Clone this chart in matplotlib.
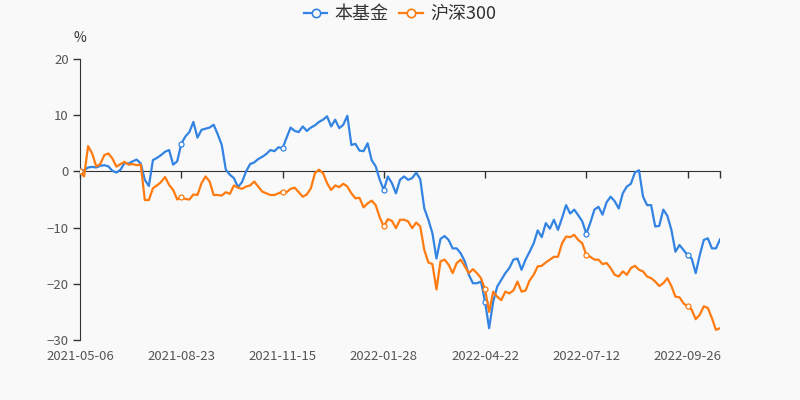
import matplotlib
matplotlib.use("Agg")
import matplotlib.pyplot as plt
from matplotlib.lines import Line2D

plt.rcParams['font.family'] = ['Noto Sans CJK SC', 'DejaVu Sans']

tick_labels = ["2021-05-06", "2021-08-23", "2021-11-15", "2022-01-28",
               "2022-04-22", "2022-07-12", "2022-09-26"]
label_step = 25

fund = [0, 0.2, 0.7, 0.8, 0.7, 1.0, 1.1, 0.9, 0.1, -0.2,
        0.3, 1.5, 1.4, 1.8, 2.1, 1.4, -1.5, -2.6, 2.0, 2.4,
        2.9, 3.5, 3.8, 1.2, 1.8, 4.9, 6.2, 7.0, 8.8, 6.0,
        7.4, 7.6, 7.8, 8.3, 6.6, 4.7, 0.3, -0.6, -1.2, -2.8,
        -1.9, 0.0, 1.3, 1.6, 2.2, 2.6, 3.1, 3.8, 3.6, 4.3,
        4.1, 6.0, 7.8, 7.2, 7.0, 8.0, 7.2, 7.8, 8.2, 8.8,
        9.2, 9.8, 8.0, 9.2, 7.7, 8.3, 9.9, 4.7, 4.9, 3.7,
        3.6, 5.0, 2.0, 0.9, -1.5, -3.3, -0.9, -2.1, -3.9, -1.5,
        -0.9, -1.5, -1.2, -0.2, -1.4, -6.6, -8.6, -11.0, -15.5, -12.0,
        -11.5, -12.2, -13.7, -13.7, -14.6, -16.0, -18.4, -19.9, -19.9, -19.6,
        -23.2, -27.9, -23.2, -20.5, -19.3, -18.1, -17.2, -15.7, -15.5, -17.5,
        -15.7, -14.3, -12.8, -10.5, -11.7, -9.2, -10.2, -8.6, -10.4, -8.3,
        -6.0, -7.5, -6.8, -7.8, -8.9, -11.1, -9.1, -6.8, -6.3, -7.7,
        -5.5, -4.5, -5.3, -6.6, -3.9, -2.7, -2.2, -0.2, 0.2, -4.5,
        -6.0, -6.0, -9.8, -9.7, -6.8, -7.9, -10.4, -14.3, -13.1, -14.0,
        -14.9, -15.5, -18.1, -14.9, -12.2, -11.9, -13.7, -13.7, -12.1]

hs300 = [0, -0.9, 4.5, 3.2, 0.9, 1.3, 2.9, 3.2, 2.3, 0.85,
         1.3, 1.7, 1.2, 1.3, 1.1, 1.2, -5.1, -5.1, -3.0, -2.5,
         -1.9, -1.0, -2.4, -3.3, -5.0, -4.5, -4.9, -5.0, -4.1, -4.2,
         -2.1, -0.9, -1.8, -4.2, -4.2, -4.3, -3.7, -4.0, -2.5, -2.9,
         -3.1, -2.7, -2.5, -1.8, -2.7, -3.6, -3.9, -4.2, -4.2, -3.9,
         -3.6, -3.7, -3.1, -2.9, -3.7, -4.5, -4.1, -3.0, -0.3, 0.3,
         -0.3, -2.1, -3.3, -2.5, -2.8, -2.2, -2.7, -3.9, -4.8, -4.7,
         -6.4, -5.7, -5.2, -6.0, -8.2, -9.8, -8.5, -8.8, -10.1, -8.6,
         -8.6, -8.9, -10.1, -9.1, -9.8, -14.0, -16.2, -16.5, -21.0, -16.0,
         -15.7, -16.6, -18.1, -16.3, -15.7, -16.9, -18.1, -17.4, -18.1, -19.0,
         -21.0, -25.0, -21.4, -22.3, -22.9, -21.4, -21.7, -21.2, -19.6, -21.4,
         -21.2, -19.4, -18.4, -16.9, -16.8, -16.2, -15.7, -15.2, -15.2, -12.8,
         -11.6, -11.7, -11.3, -12.2, -12.8, -14.9, -15.2, -15.7, -15.7, -16.5,
         -16.3, -17.2, -18.4, -18.7, -17.8, -18.4, -17.2, -16.8, -17.5, -17.8,
         -18.7, -19.0, -19.6, -20.4, -19.9, -19.0, -20.4, -22.3, -22.4, -23.5,
         -24.0, -24.6, -26.3, -25.5, -24.0, -24.3, -26.1, -28.2, -27.9]

series_names = ["本基金", "沪深300"]
colors = ["#3283e2", "#ff7b10"]

bg = "#f9f9f9"
fig = plt.figure(figsize=(8, 4), dpi=100, facecolor=bg)
ax = fig.add_axes([0.1, 0.15, 0.8, 0.7025])
ax.set_facecolor(bg)

x = list(range(len(fund)))
for vals, c in zip([fund, hs300], colors):
    ax.plot(x, vals, color=c, lw=1.6, marker='o', markevery=label_step,
            ms=3.6, mfc='white', mec=c, mew=0.9, zorder=3)

n = len(fund)
ax.set_xlim(0, n - 1)
ax.set_ylim(-30, 20)
ax.set_yticks([-30, -20, -10, 0, 10, 20])
ax.tick_params(axis='y', length=5, width=1, color='#333333', labelsize=9.5,
               labelcolor='#555555', pad=3)

tick_pos = [i * label_step for i in range(len(tick_labels))]
ax.set_xticks(tick_pos + [n - 1])
ax.set_xticklabels([])
ax.tick_params(axis='x', length=5, width=1, color='#333333', direction='out')

for s in ['top', 'right']:
    ax.spines[s].set_visible(False)
ax.spines['left'].set_color('#333333')
ax.spines['bottom'].set_color('#333333')
ax.spines['bottom'].set_position(('data', 0))
ax.spines['bottom'].set_zorder(2)

sec = ax.secondary_xaxis('bottom')
sec.set_xticks(tick_pos)
sec.set_xticklabels(tick_labels)
sec.tick_params(length=0, labelsize=9.5, labelcolor='#555555', pad=7)
sec.spines['bottom'].set_visible(False)

fig.text(0.1, 0.905, "%", ha='center', va='center', fontsize=10, color='#333333')

handles = [Line2D([0], [0], color=c, lw=1.6, marker='o', ms=6, mfc='white',
                  mec=c, mew=1.2) for c in colors]
fig.legend(handles, series_names, loc='center', bbox_to_anchor=(0.5, 0.965),
           ncol=2, frameon=False, fontsize=13, handlelength=1.3,
           handletextpad=0.4, columnspacing=0.6, labelcolor='#333333')

fig.savefig("out.png", dpi=100, facecolor=bg)
